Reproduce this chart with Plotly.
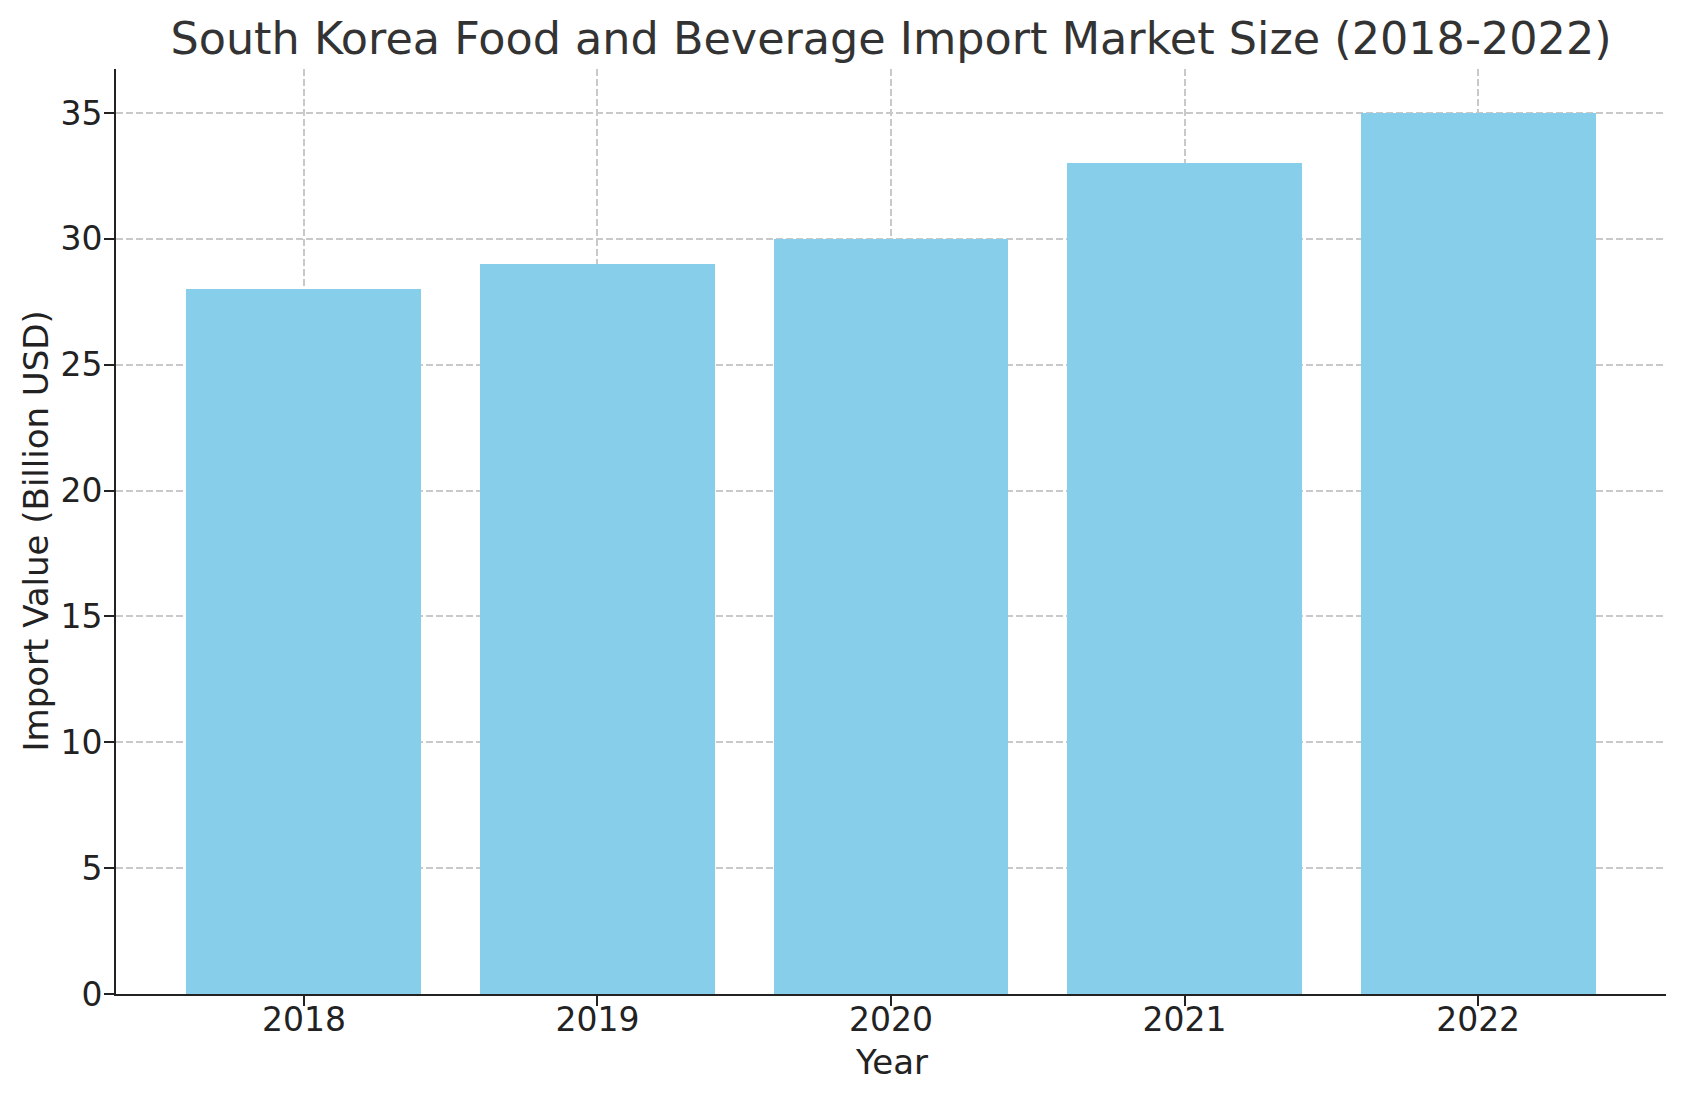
import plotly.graph_objects as go

years = ["2018", "2019", "2020", "2021", "2022"]
import_values = [28, 29, 30, 33, 35]
y_ticks = [0, 5, 10, 15, 20, 25, 30, 35]

OFF = 8  # page body margin
W, H = 1686 - OFF, 1101 - OFF
L, R, T, B = 116 - OFF, 20, 69 - OFF, 107

fig = go.Figure()
fig.add_trace(go.Bar(
    x=list(range(len(years))), y=import_values, width=0.8,
    marker=dict(color="#87CEEB", line=dict(width=0)),
    showlegend=False,
))

font = "DejaVu Sans, Verdana, sans-serif"
grid = dict(showgrid=True, gridcolor="#c9c9c9", gridwidth=1.6, griddash="7px,3px")
tick_common = dict(ticks="", ticklen=0, showline=True, linecolor="#222222",
                   linewidth=2, mirror=False, zeroline=False, layer="above traces")

fig.update_layout(
    width=W, height=H,
    margin=dict(l=L, r=R, t=T, b=B, autoexpand=False),
    paper_bgcolor="white", plot_bgcolor="white",
    font=dict(family=font, size=33, color="#222222"),
    bargap=0,
    title=dict(text="South Korea Food and Beverage Import Market Size (2018-2022)",
               font=dict(family=font, size=44.5, color="#333333"),
               x=0.5, xref="paper", xanchor="center",
               y=1 - (38 - OFF) / H, yref="container", yanchor="middle"),
    xaxis=dict(range=[-0.64, 4.64], tickmode="array",
               tickvals=list(range(len(years))), ticktext=years,
               ticklabelstandoff=-5,
               minor=dict(tickmode="array", tickvals=list(range(len(years))),
                          ticks="outside", ticklen=10, tickwidth=2,
                          tickcolor="#222222", showgrid=False),
               **tick_common, **grid),
    yaxis=dict(range=[0, 36.75], tickmode="array", tickvals=y_ticks,
               ticktext=[str(v) for v in y_ticks],
               ticklabelstandoff=5,
               minor=dict(tickmode="array", tickvals=y_ticks,
                          ticks="outside", ticklen=10, tickwidth=2,
                          tickcolor="#222222", showgrid=False),
               **tick_common, **grid),
    annotations=[
        dict(text="Year", xref="paper", yref="paper", x=0.5, y=0,
             yshift=-(1062 - 994), xanchor="center", yanchor="middle",
             showarrow=False, font=dict(family=font, size=34, color="#222222")),
        dict(text="Import Value (Billion USD)", xref="paper", yref="paper",
             x=0, y=0.5, xshift=-(116 - 35), xanchor="center", yanchor="middle",
             textangle=-90, showarrow=False,
             font=dict(family=font, size=34, color="#222222")),
    ],
)

fig.write_html("out.html")
